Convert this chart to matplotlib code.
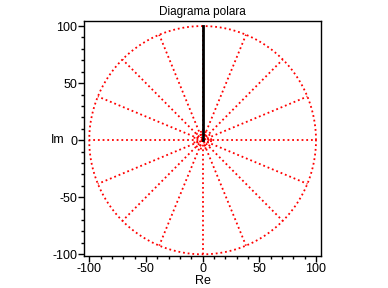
import numpy as np
import matplotlib.pyplot as plt
from matplotlib.ticker import MultipleLocator

plt.rcParams['font.family'] = ['Liberation Sans', 'DejaVu Sans']
plt.rcParams['axes.unicode_minus'] = False

# polar grid
grid_radii = [2.5, 5, 7.5, 100]
spoke_angles_deg = [0, 22.5, 45, 67.5, 90, 112.5, 135, 157.5,
                    180, 202.5, 225, 247.5, 270, 292.5, 315, 337.5]
spoke_length = 100
# plotted curve (a ray along the imaginary axis)
curve_re = [0, 0]
curve_im = [0, 100]

ticks = [-100, -50, 0, 50, 100]

fig = plt.figure(figsize=(3.88, 2.88), dpi=100)
ax = fig.add_axes([0.2165, 0.111, 0.6108, 0.816])

red = (1.0, 0.0, 0.0)
dots = (0, (1, 1.6))
t = np.linspace(0, 2 * np.pi, 400)
for r in grid_radii:
    ax.plot(r * np.cos(t), r * np.sin(t), color=red, lw=1.3, ls=dots)
for a in spoke_angles_deg:
    th = np.deg2rad(a)
    ax.plot([0, spoke_length * np.cos(th)], [0, spoke_length * np.sin(th)],
            color=red, lw=1.3, ls=dots)

ax.plot(curve_re, curve_im, color='black', lw=2)

ax.set_xlim(-104.6, 104.4)
ax.set_ylim(-101.5, 104.4)
ax.set_xticks(ticks)
ax.set_yticks(ticks)
ax.xaxis.set_minor_locator(MultipleLocator(10))
ax.yaxis.set_minor_locator(MultipleLocator(10))
ax.tick_params(which='major', length=4, width=1, labelsize=9, pad=1)
ax.tick_params(which='minor', length=2.5, width=1)
for s in ax.spines.values():
    s.set_linewidth(1)

ax.set_title('Diagrama polara', fontsize=8.5, pad=4)
ax.set_xlabel('Re', fontsize=9, labelpad=0)
ax.set_ylabel('Im', fontsize=9, rotation=0, ha='right', va='center')
ax.yaxis.set_label_coords(-0.082, 0.493)

fig.savefig('out.png', dpi=100)
